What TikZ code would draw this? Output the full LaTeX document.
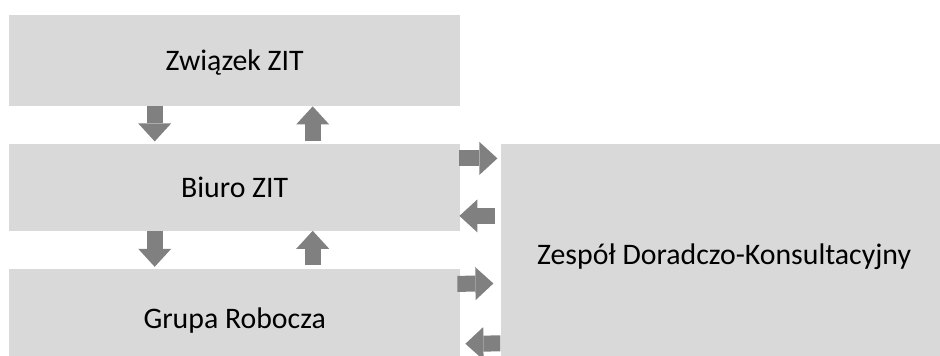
\documentclass[tikz,border=0pt]{standalone}
\usepackage{fontspec}
\setmainfont{Carlito}
\usetikzlibrary{arrows.meta,positioning}
\definecolor{boxgray}{HTML}{D9D9D9}
\definecolor{arrgray}{HTML}{808080}

\begin{document}
\begin{tikzpicture}[x=1pt,y=-1pt,node distance=37pt,font=\fontsize{29.8}{36}\selectfont]
  \tikzstyle{box}=[fill=boxgray,inner sep=0pt,text height=22pt,text depth=2pt,minimum width=451pt]
  \tikzstyle{blk}=[color=arrgray,line width=16pt,-{Triangle[width=33pt,length=18pt,line width=0pt]}]
\useasboundingbox (0,0) rectangle (940,356);
\node[box,minimum height=91pt,anchor=north west] (zw) at (9,15) {Związek ZIT};
\node[box,minimum height=87pt] (biuro) [below=of zw] {Biuro ZIT};
\node[box,minimum height=98pt] (grupa) [below=38pt of biuro] {Grupa Robocza};
\node[box,minimum width=447pt,minimum height=221pt] (zespol) [right=40pt of biuro.north east,anchor=north west] {Zespół Doradczo-Konsultacyjny};
\path[blk]
([xshift=-80pt]zw.south) edge [shorten >=2pt] ([xshift=-80pt]biuro.north)
([xshift=78pt]biuro.north) edge [shorten <=2pt] ([xshift=78pt]zw.south)
([xshift=-80pt]biuro.south) edge [shorten >=2pt] ([xshift=-80pt]grupa.north)
([xshift=78pt]grupa.north) edge [shorten <=4pt] ([xshift=78pt]biuro.south)
([yshift=-15pt]biuro.north east) edge [shorten <=-1pt,shorten >=3pt] ([yshift=-15pt]zespol.north west)
([yshift=-72.5pt]zespol.north west) edge [shorten <=5pt,shorten >=-1pt] ([yshift=-72.5pt]biuro.north east)
([yshift=-15pt]grupa.north east) edge [shorten <=-3pt,shorten >=7pt] ([yshift=-140pt]zespol.north west)
([yshift=-200pt]zespol.north west) edge [shorten >=5pt] ([yshift=-75pt]grupa.north east);
\end{tikzpicture}
\end{document}
